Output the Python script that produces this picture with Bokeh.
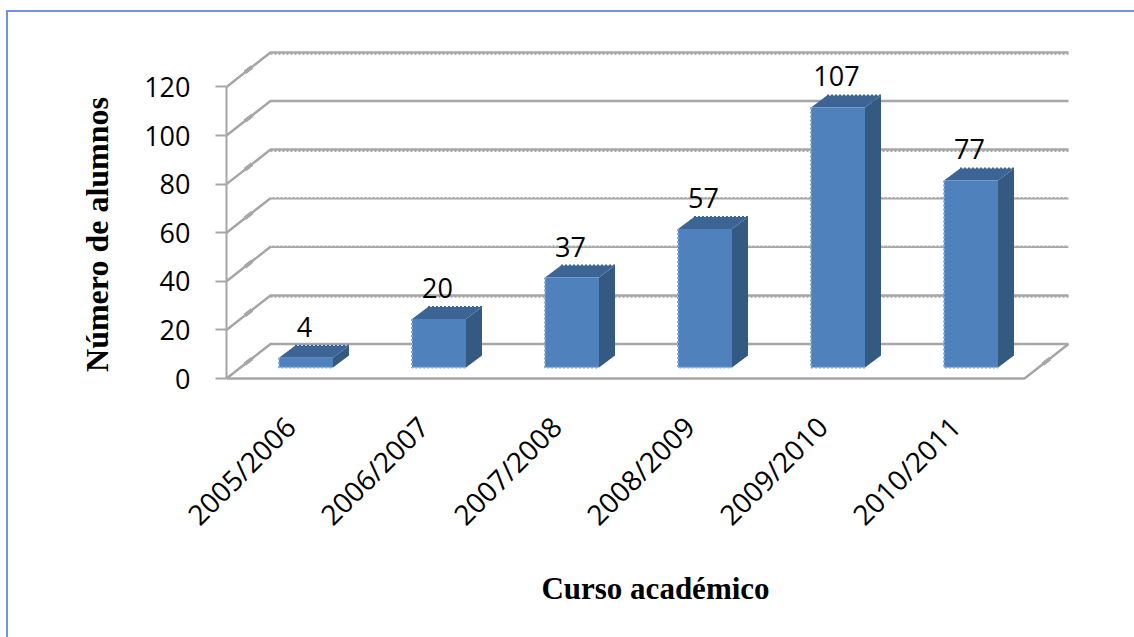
from bokeh.plotting import figure
from bokeh.models import Range1d, FixedTicker
from bokeh.core.properties import value
from bokeh.embed import file_html
from bokeh.resources import INLINE

categories = ["2005/2006", "2006/2007", "2007/2008", "2008/2009", "2009/2010", "2010/2011"]
alumnos = [4, 20, 37, 57, 107, 77]
y_ticks = [0, 20, 40, 60, 80, 100, 120]
toothed_levels = [120, 80, 20]
wavy_levels = [60, 40]

PX_X, PX_Y = 133.0, 2.43          # pixels per category, per pupil
DX, DY = 44 / PX_X, 34.5 / PX_Y   # depth of the chart box
BAR_W = 54 / PX_X
BAR_OX, BAR_OY = 13 / PX_X, 11 / PX_Y     # bar position in the box
BAR_DX, BAR_DY = 16 / PX_X, 12 / PX_Y     # depth of a bar
N = len(categories)
GRID = "#a6a6a6"
FRONT, SIDE, TOP = "#4f81bd", "#345a82", "#3c6494"

p = figure(width=1134, height=637, output_backend="svg", toolbar_location=None,
           x_range=Range1d(0, 858 / PX_X), y_range=Range1d(-50 / PX_Y, 338 / PX_Y),
           min_border_left=226, min_border_right=50, min_border_top=40, min_border_bottom=209,
           outline_line_color=None, border_fill_color=None, background_fill_color=None)
p.styles = {
    "background-image": "linear-gradient(#6f93dc,#6f93dc),linear-gradient(#6f93dc,#6f93dc)",
    "background-size": "100% 2px,2px 100%",
    "background-position": "6px 10px,6px 10px",
    "background-repeat": "no-repeat",
}
p.grid.visible = False

# y axis
ya = p.yaxis[0]
ya.ticker = FixedTicker(ticks=y_ticks)
ya.bounds = (0, 120)
ya.axis_line_color = GRID
ya.axis_line_width = 2
ya.major_tick_line_color = GRID
ya.major_tick_line_width = 2
ya.major_tick_out = 11
ya.major_tick_in = 0
ya.minor_tick_line_color = None
ya.major_label_standoff = 25
ya.major_label_text_font = "Open Sans"
ya.major_label_text_font_size = "27px"
ya.major_label_text_color = "#000000"
ya.axis_label = "Número de alumnos"
ya.axis_label_standoff = 26
ya.axis_label_text_font = "Liberation Serif"
ya.axis_label_text_font_style = "bold"
ya.axis_label_text_font_size = "32px"
ya.axis_label_text_color = "#000000"

# x axis
xa = p.xaxis[0]
ticks = [i + 0.5 - 3 / PX_X for i in range(N)]
xa.ticker = FixedTicker(ticks=ticks)
xa.major_label_overrides = {t: c for t, c in zip(ticks, categories)}
xa.major_label_orientation = 0.785
xa.axis_line_color = None
xa.major_tick_line_color = None
xa.minor_tick_line_color = None
xa.major_label_standoff = -13
xa.major_label_text_font = "Open Sans"
xa.major_label_text_font_size = "28px"
xa.major_label_text_color = "#000000"
xa.axis_label = "Curso académico"
xa.axis_label_standoff = 22
xa.axis_label_text_font = "Liberation Serif"
xa.axis_label_text_font_style = "bold"
xa.axis_label_text_font_size = "31px"
xa.axis_label_text_color = "#000000"

# box: floor edges, walls' gridlines
for v in y_ticks:
    p.line([0, DX, N + DX], [v, v + DY, v + DY], line_color=GRID, line_width=2.5)
    p.line([DX * 0.42, DX * 0.58], [v + DY * 0.42, v + DY * 0.58], line_color=GRID, line_width=4)
p.line([0, N, N + DX], [0, 0, DY], line_color=GRID, line_width=2.5)
p.line([N + DX * 0.42, N + DX * 0.58], [DY * 0.42, DY * 0.58], line_color=GRID, line_width=4)
for v in toothed_levels:
    p.line([DX, N + DX], [v + DY - 0.6, v + DY - 0.6], line_color="#a6a6a6", line_width=2, line_dash="2 2")
for v in wavy_levels:
    p.line([DX, N + DX], [v + DY + 0.4, v + DY + 0.4], line_color="#ffffff", line_width=1, line_dash="2 2")

# bars
for i, v in enumerate(alumnos):
    x0 = i + 0.5 + BAR_OX - BAR_W / 2
    x1 = x0 + BAR_W
    y0 = BAR_OY
    y1 = y0 + v
    p.patch([x1, x1 + BAR_DX, x1 + BAR_DX, x1], [y0, y0 + BAR_DY, y1 + BAR_DY, y1],
            fill_color=SIDE, line_color=None)
    p.patch([x0, x0 + BAR_DX, x1 + BAR_DX, x1], [y1, y1 + BAR_DY, y1 + BAR_DY, y1],
            fill_color=TOP, line_color=None)
    p.patch([x0, x1, x1, x0], [y0, y0, y1, y1], fill_color=FRONT, line_color=None)
    p.line([x0, x0, x1], [y1, y0, y0], line_color="#7fa8dc", line_width=2, line_dash="2 2")
    p.line([x0 + BAR_DX, x1 + BAR_DX], [y1 + BAR_DY, y1 + BAR_DY], line_color=TOP, line_width=2, line_dash="2 2")

# data labels
p.text(x=[i + 0.5 + BAR_OX for i in range(N)], y=[v + BAR_OY for v in alumnos],
       text=[str(v) for v in alumnos], x_offset=-1.5, y_offset=-31,
       text_align="center", text_baseline="middle", text_color="#000000",
       text_font=value("Open Sans"), text_font_size="27px")

open("out.html", "w").write(file_html(p, INLINE))
